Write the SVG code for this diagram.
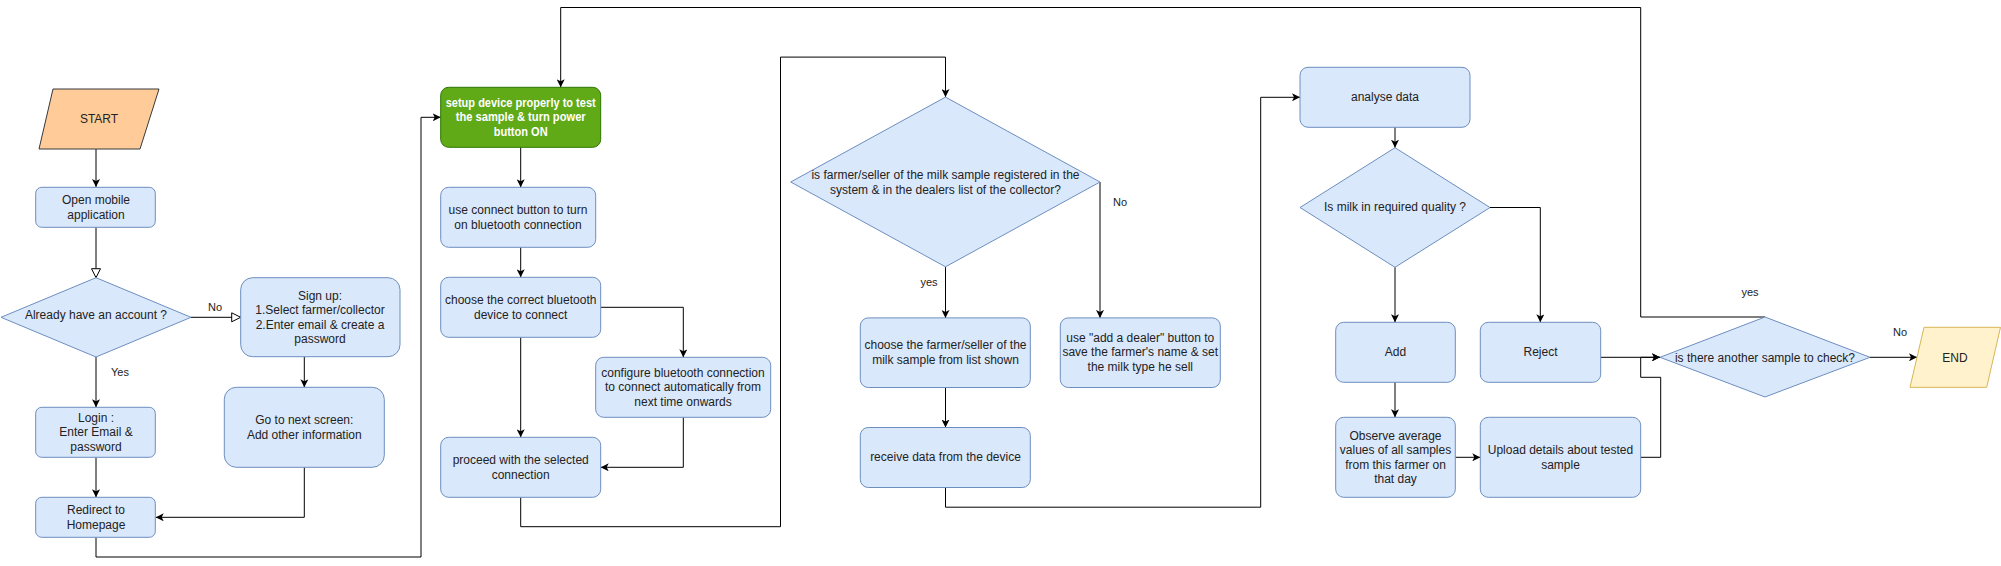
<svg xmlns="http://www.w3.org/2000/svg" width="2001" height="566" viewBox="0 0 2001 566">
<style>
.n{fill:#dae8fc;stroke:#6c8ebf;stroke-width:1}
.t{font-family:"Liberation Sans",Arial,sans-serif;font-size:12px;fill:#222;text-anchor:middle}
.l{font-family:"Liberation Sans",Arial,sans-serif;font-size:11px;fill:#222;text-anchor:middle}
.c{fill:none;stroke:#000;stroke-width:1}
</style>
<defs>
<marker id="a" markerUnits="userSpaceOnUse" viewBox="0 0 8 8" markerWidth="8" markerHeight="8" refX="8" refY="4" orient="auto">
<path d="M0,0 L8,4 L0,8 L2,4 Z" fill="#000"/>
</marker>
<marker id="h" markerUnits="userSpaceOnUse" viewBox="-1 -1 11 11" markerWidth="11" markerHeight="11" refX="9" refY="4.5" orient="auto">
<path d="M0,0 L9,4.5 L0,9 Z" fill="#fff" stroke="#000" stroke-width="1"/>
</marker>
</defs>
<rect width="2001" height="566" fill="#fff"/>

<g id="connectors">
<path class="c" marker-end="url(#a)" d="M96,149 L96,187"/>
<path class="c" marker-end="url(#h)" d="M96,227.3 L96,277.7"/>
<path class="c" marker-end="url(#h)" d="M191,317.3 L240.7,317.3"/>
<path class="c" marker-end="url(#a)" d="M96,357 L96,407.3"/>
<path class="c" marker-end="url(#a)" d="M304.3,356.7 L304.3,387.3"/>
<path class="c" marker-end="url(#a)" d="M96,457.3 L96,497.3"/>
<path class="c" marker-end="url(#a)" d="M304.3,467.3 L304.3,517.3 L155.7,517.3"/>
<path class="c" marker-end="url(#a)" d="M96,537.3 L96,557 L421,557 L421,117.3 L440.7,117.3"/>
<path class="c" marker-end="url(#a)" d="M520.7,147.3 L520.7,187.3"/>
<path class="c" marker-end="url(#a)" d="M520.7,247.3 L520.7,277.3"/>
<path class="c" marker-end="url(#a)" d="M600.7,307.3 L683.3,307.3 L683.3,357.3"/>
<path class="c" marker-end="url(#a)" d="M520.7,337.3 L520.7,437.3"/>
<path class="c" marker-end="url(#a)" d="M683.3,417.3 L683.3,467.3 L600.7,467.3"/>
<path class="c" marker-end="url(#a)" d="M520.7,497.3 L520.7,526.7 L780.5,526.7 L780.5,57.1 L945.5,57.1 L945.5,97.1"/>
<path class="c" marker-end="url(#a)" d="M945.5,266.8 L945.5,317.9"/>
<path class="c" marker-end="url(#a)" d="M1100,182 L1100,317.9"/>
<path class="c" marker-end="url(#a)" d="M945.5,387.5 L945.5,427.5"/>
<path class="c" marker-end="url(#a)" d="M945.5,487.5 L945.5,507.2 L1260.7,507.2 L1260.7,97.3 L1300,97.3"/>
<path class="c" marker-end="url(#a)" d="M1395,127.3 L1395,147.7"/>
<path class="c" marker-end="url(#a)" d="M1490,207.5 L1540.3,207.5 L1540.3,322.3"/>
<path class="c" marker-end="url(#a)" d="M1395,267.3 L1395,322.3"/>
<path class="c" marker-end="url(#a)" d="M1395,382.3 L1395,417.3"/>
<path class="c" marker-end="url(#a)" d="M1455.3,457.3 L1480.3,457.3"/>
<path class="c" marker-end="url(#a)" d="M1600.7,357.3 L1660,357.3"/>
<path class="c" marker-end="url(#a)" d="M1640.7,457.3 L1660.7,457.3 L1660.7,377.3 L1640.7,377.3 L1640.7,357.3 L1660,357.3"/>
<path class="c" marker-end="url(#a)" d="M1765,317 L1640.7,317 L1640.7,7.5 L560.7,7.5 L560.7,87.3"/>
<path class="c" marker-end="url(#a)" d="M1870,357.3 L1917,357.3"/>
<text class="l" x="215" y="311">No</text>
<text class="l" x="120" y="375.5">Yes</text>
<text class="l" x="1120" y="205.5">No</text>
<text class="l" x="929" y="286">yes</text>
<text class="l" x="1750" y="296">yes</text>
<text class="l" x="1900" y="335.5">No</text>
</g>

<g id="start">
<polygon points="53,89 159,89 140,149 39,149" fill="#ffcc99" stroke="#36393d"/>
<text class="t" x="99" y="123">START</text>
</g>
<g id="open-app">
<rect class="n" x="35.7" y="187.3" width="119.6" height="40" rx="6"/>
<text class="t" x="96" y="203.5">Open mobile</text>
<text class="t" x="96" y="218.5">application</text>
</g>
<g id="have-account">
<polygon class="n" points="96,277.7 191,317.3 96,357 1,317.3"/>
<text class="t" x="96" y="319">Already have an account ?</text>
</g>
<g id="signup">
<rect class="n" x="240.7" y="277.7" width="159.3" height="79" rx="12"/>
<text class="t" x="320" y="300">Sign up:</text>
<text class="t" x="320" y="314">1.Select farmer/collector</text>
<text class="t" x="320" y="329">2.Enter email &amp; create a</text>
<text class="t" x="320" y="343">password</text>
</g>
<g id="next-screen">
<rect class="n" x="224.3" y="387.3" width="160" height="80" rx="12"/>
<text class="t" x="304.3" y="423.5">Go to next screen:</text>
<text class="t" x="304.3" y="438.5">Add other information</text>
</g>
<g id="login">
<rect class="n" x="35.7" y="407.3" width="119.6" height="50" rx="6"/>
<text class="t" x="96" y="422">Login :</text>
<text class="t" x="96" y="436">Enter Email &amp;</text>
<text class="t" x="96" y="451">password</text>
</g>
<g id="redirect">
<rect class="n" x="35.7" y="497.3" width="119.6" height="40" rx="6"/>
<text class="t" x="96" y="514">Redirect to</text>
<text class="t" x="96" y="528.5">Homepage</text>
</g>
<g id="setup-device">
<rect x="440.7" y="87.3" width="160" height="60" rx="8" fill="#60a917" stroke="#2d7600"/>
<text class="t" x="520.7" y="107" style="fill:#fff;font-weight:bold" textLength="150" lengthAdjust="spacingAndGlyphs">setup device properly to test</text>
<text class="t" x="520.7" y="121" style="fill:#fff;font-weight:bold" textLength="130" lengthAdjust="spacingAndGlyphs">the sample &amp; turn power</text>
<text class="t" x="520.7" y="136" style="fill:#fff;font-weight:bold" textLength="54" lengthAdjust="spacingAndGlyphs">button ON</text>
</g>
<g id="use-connect">
<rect class="n" x="440.7" y="187.3" width="155" height="60" rx="8"/>
<text class="t" x="518" y="214">use connect button to turn</text>
<text class="t" x="518" y="229">on bluetooth connection</text>
</g>
<g id="choose-device">
<rect class="n" x="440.7" y="277.3" width="160" height="60" rx="8"/>
<text class="t" x="520.7" y="304">choose the correct bluetooth</text>
<text class="t" x="520.7" y="319">device to connect</text>
</g>
<g id="configure">
<rect class="n" x="595.7" y="357.3" width="175" height="60" rx="8"/>
<text class="t" x="683" y="377">configure bluetooth connection</text>
<text class="t" x="683" y="391">to connect automatically from</text>
<text class="t" x="683" y="406">next time onwards</text>
</g>
<g id="proceed">
<rect class="n" x="440.7" y="437.3" width="160" height="60" rx="8"/>
<text class="t" x="520.7" y="464">proceed with the selected</text>
<text class="t" x="520.7" y="479">connection</text>
</g>
<g id="registered">
<polygon class="n" points="945.5,97.1 1100,182 945.5,266.8 790.7,182"/>
<text class="t" x="945.5" y="179">is farmer/seller of the milk sample registered in the</text>
<text class="t" x="945.5" y="193.5">system &amp; in the dealers list of the collector?</text>
</g>
<g id="choose-farmer">
<rect class="n" x="860.3" y="317.9" width="170" height="69.6" rx="8"/>
<text class="t" x="945.5" y="348.5">choose the farmer/seller of the</text>
<text class="t" x="945.5" y="363.5">milk sample from list shown</text>
</g>
<g id="add-dealer">
<rect class="n" x="1060.3" y="317.9" width="160" height="69.6" rx="8"/>
<text class="t" x="1140.3" y="341.5">use "add a dealer" button to</text>
<text class="t" x="1140.3" y="356">save the farmer's name &amp; set</text>
<text class="t" x="1140.3" y="371">the milk type he sell</text>
</g>
<g id="receive">
<rect class="n" x="860.3" y="427.5" width="170" height="60" rx="8"/>
<text class="t" x="945.5" y="461">receive data from the device</text>
</g>
<g id="analyse">
<rect class="n" x="1300" y="67.3" width="170" height="60" rx="8"/>
<text class="t" x="1385" y="101">analyse data</text>
</g>
<g id="quality">
<polygon class="n" points="1395,147.7 1490,207.5 1395,267.3 1300,207.5"/>
<text class="t" x="1395" y="211">Is milk in required quality ?</text>
</g>
<g id="add">
<rect class="n" x="1335.7" y="322.3" width="119.6" height="60" rx="8"/>
<text class="t" x="1395.5" y="356">Add</text>
</g>
<g id="reject">
<rect class="n" x="1480.3" y="322.3" width="120.4" height="60" rx="8"/>
<text class="t" x="1540.5" y="356">Reject</text>
</g>
<g id="observe">
<rect class="n" x="1335.7" y="417.3" width="119.6" height="80" rx="8"/>
<text class="t" x="1395.5" y="440">Observe average</text>
<text class="t" x="1395.5" y="454">values of all samples</text>
<text class="t" x="1395.5" y="468.5">from this farmer on</text>
<text class="t" x="1395.5" y="482.5">that day</text>
</g>
<g id="upload">
<rect class="n" x="1480.3" y="417.3" width="160.4" height="80" rx="8"/>
<text class="t" x="1560.5" y="454">Upload details about tested</text>
<text class="t" x="1560.5" y="469">sample</text>
</g>
<g id="another-sample">
<polygon class="n" points="1765,317 1870,357.3 1765,397 1660,357.3"/>
<text class="t" x="1765" y="361.5">is there another sample to check?</text>
</g>
<g id="end">
<polygon points="1924,327.3 2000.5,327.3 1986.7,387.3 1910,387.3" fill="#fff2cc" stroke="#d6b656"/>
<text class="t" x="1955" y="361.5">END</text>
</g>
</svg>
